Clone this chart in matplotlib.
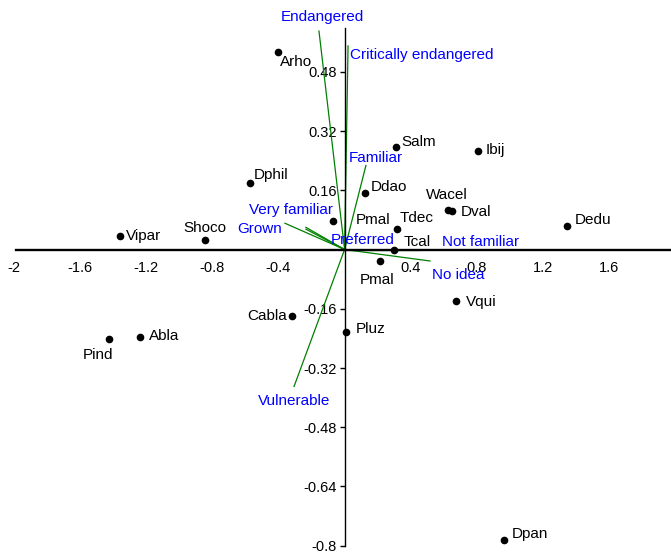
import matplotlib
matplotlib.use("Agg")
import matplotlib.pyplot as plt

# ---- data ----
species = ["Arho", "Salm", "Ibij", "Dphil", "Ddao", "Wacel", "Dval", "Dedu",
           "Vipar", "Shoco", "Pmal", "Tdec", "Tcal", "Pmal", "Vqui", "Cabla",
           "Pluz", "Abla", "Pind", "Dpan"]
sp_x = [-0.403, 0.311, 0.807, -0.572, 0.123, 0.626, 0.650, 1.345,
        -1.359, -0.845, -0.070, 0.317, 0.299, 0.214, 0.674, -0.318,
        0.008, -1.238, -1.425, 0.964]
sp_y = [0.534, 0.278, 0.267, 0.179, 0.152, 0.106, 0.103, 0.063,
        0.036, 0.026, 0.077, 0.055, -0.001, -0.031, -0.138, -0.179,
        -0.222, -0.235, -0.243, -0.784]

variables = ["Endangered", "Critically endangered", "Familiar", "Very familiar",
             "Grown", "Preferred", "Not familiar", "No idea", "Vulnerable"]
var_x = [-0.155, 0.021, 0.129, -0.361, -0.234, -0.234, 0.45, 0.517, -0.306]
var_y = [0.590, 0.550, 0.227, 0.071, 0.060, 0.055, 0.0, -0.031, -0.370]

xticks = [-2, -1.6, -1.2, -0.8, -0.4, 0.4, 0.8, 1.2, 1.6]
xtick_labels = ["-2", "-1.6", "-1.2", "-0.8", "-0.4", "0.4", "0.8", "1.2", "1.6"]
yticks = [0.48, 0.32, 0.16, -0.16, -0.32, -0.48, -0.64, -0.8]
ytick_labels = ["0.48", "0.32", "0.16", "-0.16", "-0.32", "-0.48", "-0.64", "-0.8"]

# ---- label placement (pixel offsets, ha) ----
sp_off = [(2, -10, "left"), (5, 5, "left"), (8, 1, "left"), (4, 8, "left"),
          (6, 6, "left"), (-1, 15, "center"), (9, -1, "left"), (8, 6, "left"),
          (6, 0, "left"), (0, 12, "center"), (23, 1, "left"), (3, 11, "left"),
          (10, 8, "left"), (-3, -19, "center"), (10, -1, "left"), (-5, 0, "right"),
          (10, 3, "left"), (9, 1, "left"), (-11, -16, "center"), (8, 6, "left")]
var_off = [(3, 14, "center"), (2, -9, "left"), (-17, 7, "left"), (6, 13, "center"),
           (-24, -2, "right"), (25, -11, "left"), (23, 8, "left"), (2, -14, "left"),
           (0, -14, "center")]

plt.rcParams['font.family'] = ['Liberation Sans', 'DejaVu Sans']

fig = plt.figure(figsize=(6.71, 5.52), dpi=100)
ax = fig.add_axes([0, 0, 1, 1])
ax.set_xlim(-2.085, 1.975)
ax.set_ylim(-0.817, 0.674)

# vectors
for vx, vy in zip(var_x, var_y):
    ax.plot([0, vx], [0, vy], color="#008000", lw=0.9, zorder=2)
for name, vx, vy, (dx, dy, ha) in zip(variables, var_x, var_y, var_off):
    ax.annotate(name, (vx, vy), xytext=(dx, dy), textcoords="offset pixels",
                ha=ha, va="center", color="#0000ff", fontsize=11, zorder=4)

# species points
ax.plot(sp_x, sp_y, "o", color="black", markersize=4.5, zorder=3, linestyle="none")
for name, px, py, (dx, dy, ha) in zip(species, sp_x, sp_y, sp_off):
    ax.annotate(name, (px, py), xytext=(dx, dy), textcoords="offset pixels",
                ha=ha, va="center", color="black", fontsize=11, zorder=4)

# axes through origin
for s in ["top", "right"]:
    ax.spines[s].set_visible(False)
ax.spines["left"].set_position(("data", 0))
ax.spines["bottom"].set_position(("data", 0))
ax.spines["bottom"].set_linewidth(1.7)
ax.spines["left"].set_linewidth(1.0)
ax.spines["bottom"].set_bounds(-1.99, 1.975)
ax.spines["left"].set_bounds(-0.8, 0.598)
ax.spines["bottom"].set_zorder(2.5)

ax.set_xticks(xticks)
ax.set_xticklabels(xtick_labels)
ax.set_yticks(yticks)
ax.set_yticklabels(ytick_labels)
ax.tick_params(axis="x", length=0, pad=8, labelsize=10.5)
ax.tick_params(axis="y", direction="out", length=3.6, width=1, pad=2, labelsize=10.5)
ax.patch.set_visible(False)

fig.savefig("out.png", dpi=100)
